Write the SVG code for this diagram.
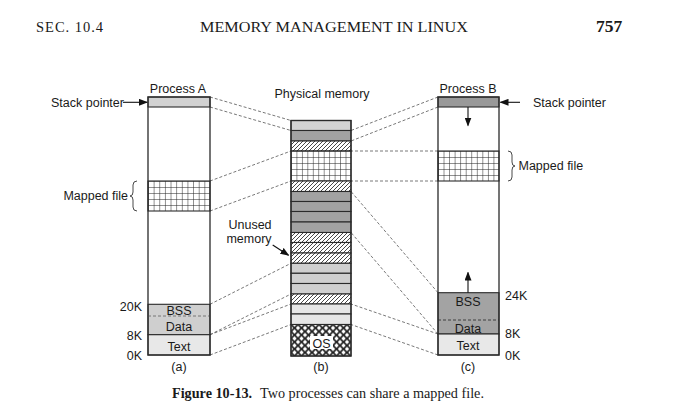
<svg xmlns="http://www.w3.org/2000/svg" width="687" height="415" viewBox="0 0 687 415">
<style>
.serif{font-family:"Liberation Serif","Times New Roman",serif;fill:#1a1a1a}
.sans{font-family:"Liberation Sans",Arial,sans-serif;font-size:12.5px;fill:#1a1a1a}
.mid{text-anchor:middle}
.end{text-anchor:end}
.box{fill:none;stroke:#2a2a2a;stroke-width:1.3}
.seg{stroke:#2a2a2a;stroke-width:1.1}
.conn{fill:none;stroke:#555;stroke-width:0.8;stroke-dasharray:3 2}
.arr{fill:none;stroke:#111;stroke-width:1.1}
.brace{fill:none;stroke:#333;stroke-width:0.9}
</style>
<defs>
<pattern id="hatch" patternUnits="userSpaceOnUse" width="4" height="4">
<rect width="4" height="4" fill="#fff"/>
<path d="M-1,1 L1,-1 M0,4 L4,0 M3,5 L5,3" stroke="#333" stroke-width="0.9"/>
</pattern>
<pattern id="grid" patternUnits="objectBoundingBox" patternContentUnits="userSpaceOnUse" width="0.0909" height="0.2">
<rect width="10" height="10" fill="#fff"/>
<path d="M0,0 H10 M0,0 V10" stroke="#222" stroke-width="1"/>
</pattern>
<pattern id="cross" patternUnits="userSpaceOnUse" x="291" y="324.5" width="7" height="7">
<rect width="7" height="7" fill="#fff"/>
<path d="M-1,-1 L8,8 M8,-1 L-1,8" stroke="#222" stroke-width="1.7"/>
</pattern>
<marker id="ah" markerUnits="userSpaceOnUse" markerWidth="9" markerHeight="7" refX="8" refY="3.5" orient="auto">
<path d="M0,0 L9,3.5 L0,7 Z" fill="#111"/>
</marker>
</defs>
<rect width="687" height="415" fill="#fff"/>

<g id="header">
<text class="serif" x="36" y="32.3" font-size="14.5" textLength="67" lengthAdjust="spacing">SEC. 10.4</text>
<text class="serif" x="200" y="32.3" font-size="14.5" textLength="268" lengthAdjust="spacingAndGlyphs">MEMORY MANAGEMENT IN LINUX</text>
<text class="serif" x="596" y="32.3" font-size="17.5" font-weight="bold">757</text>
</g>

<g id="connectors">
<path class="conn" d="M210,97 L291,120.5 M210,107 L291,130.5 M210,181 L291,151 M210,211 L291,181 M210,304.3 L291,263.3 M210,334.7 L291,294 M210,334.7 L291,304 M210,355 L291,324.5"/>
<path class="conn" d="M438,97 L351,130.5 M438,107 L351,141 M438,151 L351,151 M438,181 L351,181 M438,292.7 L351,191.5 M438,334 L351,232.5 M438,334 L351,304 M438,355 L351,324.5"/>
</g>

<g id="processA">
<text class="sans mid" x="178" y="92.5">Process A</text>
<rect x="148" y="97" width="62" height="10" fill="#d2d2d2" class="seg"/>
<rect x="148" y="181" width="62" height="30" fill="url(#grid)" class="seg"/>
<rect x="148" y="304.3" width="62" height="30.4" fill="#cfcfcf" class="seg"/>
<line x1="148" y1="316" x2="210" y2="316" stroke="#777" stroke-width="1" stroke-dasharray="3 2"/>
<rect x="148" y="334.7" width="62" height="20.3" fill="#e8e8e8" class="seg"/>
<rect x="148" y="97" width="62" height="258" class="box"/>
<text class="sans mid" x="179" y="314.5">BSS</text>
<text class="sans mid" x="179" y="331">Data</text>
<text class="sans mid" x="179" y="351">Text</text>
<text class="sans end" x="142" y="310.5">20K</text>
<text class="sans end" x="142" y="340">8K</text>
<text class="sans end" x="142" y="359.5">0K</text>
<text class="sans mid" x="179" y="370.5">(a)</text>
<text class="sans" x="51" y="107">Stack pointer</text>
<line class="arr" x1="123" y1="102.3" x2="147" y2="102.3" marker-end="url(#ah)"/>
<text class="sans end" x="128" y="199.5">Mapped file</text>
<path class="brace" d="M137,181 Q133,181 133,185 L133,192 Q133,196 130,196 Q133,196 133,200 L133,207 Q133,211 137,211"/>
</g>

<g id="physical">
<text class="sans mid" x="322" y="97.5">Physical memory</text>
<rect x="291" y="120.5" width="60" height="10" fill="#d3d3d3" class="seg"/>
<rect x="291" y="130.5" width="60" height="10.5" fill="#a2a2a2" class="seg"/>
<rect x="291" y="141" width="60" height="10" fill="url(#hatch)" class="seg"/>
<rect x="291" y="151" width="60" height="30" fill="url(#grid)" class="seg"/>
<rect x="291" y="181" width="60" height="10.5" fill="url(#hatch)" class="seg"/>
<rect x="291" y="191.5" width="60" height="10" fill="#a2a2a2" class="seg"/>
<rect x="291" y="201.5" width="60" height="10" fill="#a2a2a2" class="seg"/>
<rect x="291" y="211.5" width="60" height="10.5" fill="#a2a2a2" class="seg"/>
<rect x="291" y="222" width="60" height="10.5" fill="#a2a2a2" class="seg"/>
<rect x="291" y="232.5" width="60" height="10" fill="url(#hatch)" class="seg"/>
<rect x="291" y="242.5" width="60" height="10.5" fill="url(#hatch)" class="seg"/>
<rect x="291" y="253" width="60" height="10.3" fill="url(#hatch)" class="seg"/>
<rect x="291" y="263.3" width="60" height="10" fill="#cfcfcf" class="seg"/>
<rect x="291" y="273.3" width="60" height="10.2" fill="#cfcfcf" class="seg"/>
<rect x="291" y="283.5" width="60" height="10.5" fill="#cfcfcf" class="seg"/>
<rect x="291" y="294" width="60" height="10" fill="url(#hatch)" class="seg"/>
<rect x="291" y="304" width="60" height="10" fill="#e6e6e6" class="seg"/>
<rect x="291" y="314" width="60" height="10.5" fill="#e6e6e6" class="seg"/>
<rect x="291" y="324.5" width="60" height="31.5" fill="url(#cross)" class="seg"/>
<rect x="310" y="336" width="23" height="13" fill="#fff"/>
<text class="sans mid" x="321.5" y="347.5">OS</text>
<rect x="291" y="120.5" width="60" height="235.5" class="box"/>
<text class="sans mid" x="321" y="370.5">(b)</text>
<text class="sans mid" x="250" y="229">Unused</text>
<text class="sans mid" x="249" y="242.5">memory</text>
<line class="arr" x1="272.7" y1="245" x2="288.5" y2="255.2" marker-end="url(#ah)"/>
</g>

<g id="processB">
<text class="sans mid" x="468" y="92.5">Process B</text>
<rect x="438" y="97" width="61" height="10" fill="#999" class="seg"/>
<rect x="438" y="151" width="61" height="30" fill="url(#grid)" class="seg"/>
<rect x="438" y="292.7" width="61" height="41.3" fill="#a3a3a3" class="seg"/>
<line x1="438" y1="320" x2="499" y2="320" stroke="#333" stroke-width="0.9" stroke-dasharray="3 2"/>
<rect x="438" y="334" width="61" height="21" fill="#e8e8e8" class="seg"/>
<rect x="438" y="97" width="61" height="258" class="box"/>
<text class="sans mid" x="468" y="306">BSS</text>
<text class="sans mid" x="468" y="332.5">Data</text>
<text class="sans mid" x="468" y="350">Text</text>
<text class="sans" x="505" y="299.5">24K</text>
<text class="sans" x="505" y="338">8K</text>
<text class="sans" x="505" y="359.5">0K</text>
<text class="sans mid" x="468" y="370.5">(c)</text>
<line class="arr" x1="468" y1="107" x2="468" y2="125.5" marker-end="url(#ah)"/>
<line class="arr" x1="468" y1="292.7" x2="468" y2="272.5" marker-end="url(#ah)"/>
<line class="arr" x1="520" y1="102.3" x2="500.5" y2="102.3" marker-end="url(#ah)"/>
<text class="sans" x="533" y="107">Stack pointer</text>
<path class="brace" d="M508,151 Q512,151 512,155 L512,162 Q512,166 515,166 Q512,166 512,170 L512,177 Q512,181 508,181"/>
<text class="sans" x="518.5" y="170">Mapped file</text>
</g>

<g id="caption">
<text class="serif" x="172" y="398" font-size="14.2"><tspan font-weight="bold">Figure 10-13.</tspan><tspan x="260">Two processes can share a mapped file.</tspan></text>
</g>
</svg>
